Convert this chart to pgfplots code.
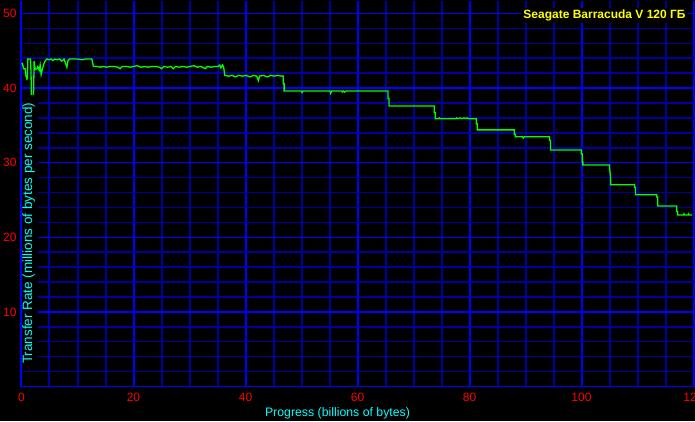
\documentclass[border=0pt]{standalone}
\usepackage{pgfplots}
\pgfplotsset{compat=1.18}
\usepackage{fontspec}
\setmainfont{Liberation Sans}
\definecolor{gmin}{RGB}{0,0,160}
\definecolor{gmaj}{RGB}{0,0,255}
\definecolor{lgreen}{RGB}{0,255,0}
\definecolor{lcyan}{RGB}{0,255,255}
\definecolor{lyellow}{RGB}{255,255,0}
\definecolor{lred}{RGB}{255,0,0}
\begin{document}
\begin{tikzpicture}[x=1pt,y=1pt]
\useasboundingbox (0,0) rectangle (695,421);
\clip (0,0) rectangle (695,421);
\fill[black] (0,0) rectangle (695,421);
\begin{axis}[
  at={(21.5pt,34.5pt)}, anchor=south west,
  scale only axis, width=672pt, height=386pt,
  xmin=0, xmax=120, ymin=0, ymax=51.74,
  axis line style={draw=none},
  xtick={0,20,40,60,80,100,120}, ytick={0,10,20,30,40,50},
  yticklabels={,10,20,30,40,50},
  minor xtick={5,10,15,25,30,35,45,50,55,65,70,75,85,90,95,105,110,115},
  minor ytick={2,4,6,8,12,14,16,18,22,24,26,28,32,34,36,38,42,44,46,48,52},
  grid=both,
  major y grid style={gmaj, line width=1.5pt},
  minor y grid style={gmin, line width=1.5pt},
  major x grid style={gmaj, line width=2pt},
  minor x grid style={gmin, line width=2pt},
  major tick length=0pt, minor tick length=0pt,
  tick label style={font=\fontsize{12}{12}\selectfont, text=lred},
  /pgf/number format/assume math mode=true,
  xticklabel style={yshift=-3pt},
  yticklabel style={xshift=-1.5pt},
]
\addplot[lgreen, line width=1.3pt, sharp plot] coordinates {
(0,43.2) (0.18,43.3) (0.36,42.6) (0.66,42.6) (0.78,41.7) (0.96,41.2) (1.05,41.3) (1.14,43.9) (1.61,43.9) (1.70,42.1) (1.78,38.7) (2.14,38.7) (2.26,43.6) (2.44,42.5) (2.75,42.6) (2.92,42.9) (3.16,42.4) (3.33,43.1) (3.51,41.8) (3.75,42.6) (4.10,43.5) (4.53,43.9) (5.0,43.8) (5.3,43.9) (5.6,43.7) (6.0,43.9) (6.4,43.8) (6.8,43.9) (7.2,43.6) (7.6,43.9) (8.1,42.8) (8.3,43.7) (8.6,43.9) (9.5,43.9) (10.0,43.9) (10.8,43.8) (11.5,43.9) (12.56,43.9) (12.7,43.4) (12.84,42.9)
(13.5,42.9) (14.1,42.8) (14.6,42.9) (15.2,42.8) (15.8,42.9) (16.5,42.9) (17.2,42.8) (17.6,42.6) (18.0,42.9) (18.8,42.9) (19.4,42.8) (20.0,42.9) (20.7,43.0) (21.3,42.8) (22.0,42.9) (22.6,42.8) (23.3,42.9) (24.0,42.9) (24.6,42.8) (25.0,42.6) (25.4,42.9) (26.1,42.8) (26.7,42.9) (27.1,42.6) (27.5,42.9) (28.2,42.8) (28.8,42.9) (29.5,42.8) (30.1,42.9) (30.8,43.0) (31.4,42.8) (32.0,42.9) (32.8,42.6) (33.2,42.9) (33.9,42.8) (34.5,42.9) (35.1,42.9) (35.4,43.1) (35.6,42.7) (35.9,43.1) (36.1,42.8) (36.3,41.7)
(37.0,41.6) (37.6,41.7) (38.2,41.5) (38.8,41.7) (39.5,41.6) (40.1,41.7) (40.8,41.5) (41.4,41.7) (42.0,41.6) (42.3,41.0) (42.5,41.6) (43.2,41.7) (43.9,41.5) (44.5,41.7) (45.1,41.6) (45.8,41.7) (46.5,41.6) (46.73,41.6) (46.73,40.6) (46.9,40.6) (46.9,39.6)
(50.0,39.6) (50.1,39.4) (50.3,39.6) (55.1,39.6) (55.2,39.3) (55.4,39.6) (57.2,39.6) (57.3,39.45) (57.5,39.6) (57.7,39.45) (57.9,39.6) (65.46,39.6) (65.46,38.6) (65.64,38.6) (65.64,37.6)
(73.72,37.6) (73.72,36.7) (73.9,36.7) (73.9,35.9)
(74.5,35.9) (74.6,36.0) (74.8,35.9) (77.6,35.9) (77.7,36.0) (77.9,35.9) (78.4,36.0) (78.6,35.9) (79.0,36.0) (79.2,35.9) (79.6,36.0) (79.8,35.9) (81.21,35.9) (81.21,35.2) (81.39,35.2) (81.39,34.4)
(87.99,34.4) (87.99,33.8) (88.17,33.8) (88.17,33.47) (89.5,33.47) (89.6,33.3) (89.8,33.47) (94.29,33.47) (94.29,33.0) (94.47,33.0) (94.47,31.7)
(99.94,31.7) (99.94,31.2) (100.12,31.2) (100.12,30.1) (100.24,30.1) (100.24,29.7)
(104.99,29.7) (104.99,29.4) (105.17,28.2) (105.22,27.03)
(109.45,27.03) (109.45,26.7) (109.63,26.7) (109.63,25.7)
(113.43,25.7) (113.43,25.4) (113.61,25.4) (113.61,24.2)
(117.0,24.2) (117.0,23.45) (117.18,23.45) (117.18,23.0) (118.2,23.0) (118.3,23.15) (118.4,23.0) (119.0,23.0) (119.1,23.15) (119.2,23.0) (119.74,23.0)
};
\end{axis}
\fill[black] (22.8,55) rectangle (38,326);
\node[rotate=90, text=lcyan, font=\fontsize{13.5}{13.5}\selectfont, inner sep=0pt] at (28.7,187.7) {Transfer Rate (millions of bytes per second)};
\node[text=lcyan, font=\fontsize{12.3}{12.3}\selectfont, inner sep=0pt] at (337.5,7.5) {Progress (billions of bytes)};
\node[text=lyellow, fill=black, font=\bfseries\fontsize{12}{12}\selectfont, inner xsep=2.5pt, inner ysep=2pt] at (604.5,405.5) {Seagate Barracuda V 120 ГБ};
\end{tikzpicture}
\end{document}
